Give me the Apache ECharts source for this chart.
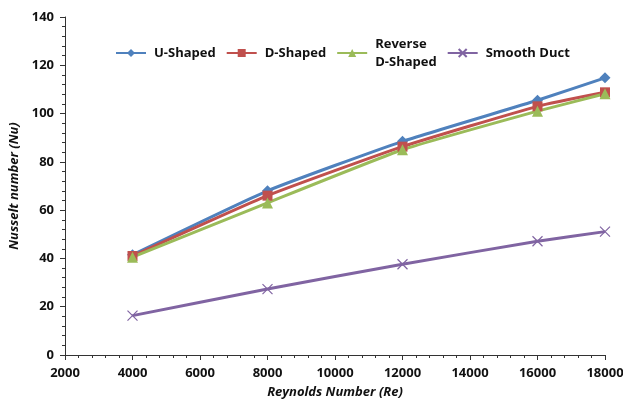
<!DOCTYPE html>
<html><head><meta charset="utf-8">
<script src="https://cdn.jsdelivr.net/npm/echarts@6/dist/echarts.min.js"></script>
<style>html,body{margin:0;padding:0;background:#fff}#c{width:623px;height:400px}</style>
</head><body><div id="c"></div>
<script>
const reynolds = [4000, 8000, 12000, 16000, 18000];
const uShaped = [41.5, 68, 88.5, 105.5, 114.8];
const dShaped = [41, 66, 86.3, 103, 108.8];
const reverseD = [40.5, 63, 85, 101, 108.2];
const smooth = [16.3, 27.3, 37.6, 47.1, 51.1];
const names = ['U-Shaped', 'D-Shaped', 'Reverse\nD-Shaped', 'Smooth Duct'];
const font = '"Open Sans", sans-serif';
const cross = 'path://M0,0 L10,10 M10,0 L0,10';
function mk(name, vals, color, symbol, size, extra) {
  return Object.assign({
    name: name, type: 'line', smooth: 0.15,
    data: reynolds.map((x, i) => [x, vals[i]]),
    symbol: symbol, symbolSize: size,
    lineStyle: { color: color, width: 3 },
    itemStyle: { color: color }
  }, extra || {});
}
const chart = echarts.init(document.getElementById('c'));
chart.setOption({
  animation: false,
  grid: { left: 65, right: 18, top: 17, bottom: 45, containLabel: false, outerBoundsMode: 'none' },
  legend: {
    top: 30, left: 110, itemWidth: 30, itemHeight: 10, itemGap: 10,
    textStyle: { fontFamily: font, fontWeight: 'bold', fontSize: 13, color: '#111', lineHeight: 18, padding: [0, 0, 0, 3] },
    data: names
  },
  xAxis: {
    type: 'value', min: 2000, max: 18000, interval: 2000,
    name: 'Reynolds Number (Re)', nameLocation: 'middle', nameGap: 31,
    nameTextStyle: { fontFamily: font, fontWeight: 'bold', fontStyle: 'italic', fontSize: 13, color: '#111' },
    axisLine: { lineStyle: { color: '#333', width: 1 } },
    axisTick: { inside: false, length: 5, lineStyle: { color: '#333' } },
    minorTick: { show: true, splitNumber: 5, length: 3, lineStyle: { color: '#333' } },
    splitLine: { show: false },
    axisLabel: { fontFamily: font, fontWeight: 'bold', fontSize: 13, color: '#111', margin: 12, formatter: v => String(v) }
  },
  yAxis: {
    type: 'value', min: 0, max: 140, interval: 20,
    name: 'Nusselt number (Nu)', nameLocation: 'middle', nameGap: 41,
    nameTextStyle: { fontFamily: font, fontWeight: 'bold', fontStyle: 'italic', fontSize: 13, color: '#111' },
    axisLine: { show: true, lineStyle: { color: '#333', width: 1 } },
    axisTick: { show: true, length: 5, lineStyle: { color: '#333' } },
    minorTick: { show: true, splitNumber: 5, length: 3, lineStyle: { color: '#333' } },
    splitLine: { show: false },
    axisLabel: { fontFamily: font, fontWeight: 'bold', fontSize: 13, color: '#111', margin: 11 }
  },
  series: [
    mk(names[0], uShaped, '#4F81BD', 'diamond', 11),
    mk(names[1], dShaped, '#C0504D', 'rect', 10),
    mk(names[2], reverseD, '#9BBB59', 'triangle', 11),
    mk(names[3], smooth, '#8064A2', cross, 10, { itemStyle: { color: 'none', borderColor: '#8064A2', borderWidth: 1.2 } })
  ]
});
</script></body></html>
